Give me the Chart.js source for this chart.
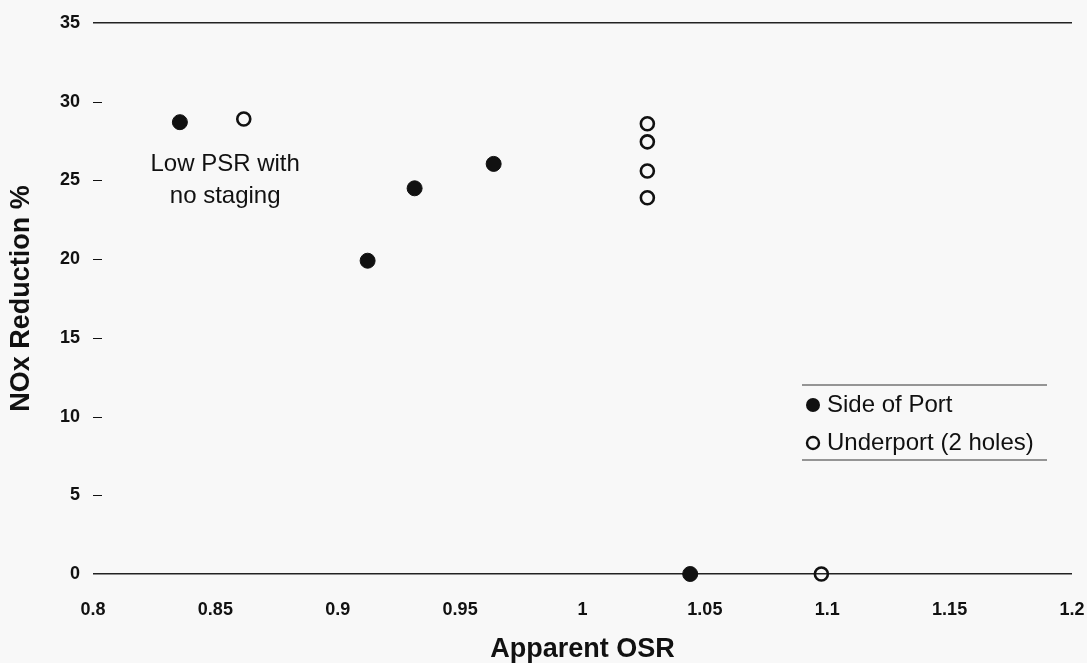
<!DOCTYPE html>
<html>
<head>
<meta charset="utf-8">
<script src="https://cdn.jsdelivr.net/npm/chart.js@4/dist/chart.umd.min.js"></script>
<style>
  html, body { margin: 0; padding: 0; background: #f8f8f8; }
  #wrap { width: 1087px; height: 663px; }
</style>
</head>
<body>
<div id="wrap"><canvas id="osr"></canvas></div>
<script>
// Apparent OSR vs NOx reduction
const sideOsr = [0.8355, 0.9122, 0.9314, 0.9637, 1.044];
const sideNox = [28.7, 19.9, 24.5, 26.05, 0];
const underOsr = [0.8616, 1.0265, 1.0265, 1.0265, 1.0265, 1.0976];
const underNox = [28.9, 28.6, 27.45, 25.6, 23.9, 0];

const xTickLabels = ['0.8', '0.85', '0.9', '0.95', '1', '1.05', '1.1', '1.15', '1.2'];
const yTickLabels = ['0', '5', '10', '15', '20', '25', '30', '35'];
const seriesNames = ['Side of Port', 'Underport (2 holes)'];
const noteLines = ['Low PSR with', 'no staging'];

const FONT = '"Liberation Sans", Arial, sans-serif';
const INK = '#111';

function toPoints(xs, ys) {
  return xs.map((x, i) => ({ x: x, y: ys[i] }));
}

// little dashes on the left edge, note text and the boxed legend
const extras = {
  id: 'extras',
  afterDraw(chart) {
    const { ctx, chartArea: a, scales } = chart;
    const xs = scales.x, ys = scales.y;
    ctx.save();

    ctx.strokeStyle = INK;
    ctx.lineWidth = 1;
    for (let v = 5; v <= 30; v += 5) {
      const py = Math.round(ys.getPixelForValue(v)) + 0.5;
      ctx.beginPath();
      ctx.moveTo(a.left, py);
      ctx.lineTo(a.left + 9, py);
      ctx.stroke();
    }

    ctx.fillStyle = INK;
    ctx.font = '24px ' + FONT;
    ctx.textAlign = 'center';
    ctx.textBaseline = 'middle';
    const nx = xs.getPixelForValue(0.854);
    const ny = ys.getPixelForValue(26.0);
    noteLines.forEach((t, i) => ctx.fillText(t, nx, ny + i * 32));

    // legend box
    const lx = a.left + 709, top = 385, bot = 460;
    ctx.strokeStyle = '#333';
    ctx.lineWidth = 1.2;
    [top, bot].forEach(y => {
      ctx.beginPath();
      ctx.moveTo(lx, y);
      ctx.lineTo(lx + 245, y);
      ctx.stroke();
    });
    const rows = [405, 443];
    chart.data.datasets.forEach((ds, i) => {
      const y = rows[i];
      ctx.beginPath();
      if (i === 0) {
        ctx.arc(lx + 11, y, 7, 0, Math.PI * 2);
        ctx.fillStyle = INK;
        ctx.fill();
      } else {
        ctx.arc(lx + 11, y, 6, 0, Math.PI * 2);
        ctx.lineWidth = 2.4;
        ctx.strokeStyle = INK;
        ctx.stroke();
      }
      ctx.fillStyle = INK;
      ctx.font = '24px ' + FONT;
      ctx.textAlign = 'left';
      ctx.fillText(ds.label, lx + 25, y);
    });
    ctx.restore();
  }
};

new Chart(document.getElementById('osr'), {
  type: 'scatter',
  data: {
    datasets: [
      {
        label: seriesNames[0],
        data: toPoints(sideOsr, sideNox),
        pointRadius: 7.5,
        pointBackgroundColor: INK,
        pointBorderColor: INK,
        pointBorderWidth: 1,
        clip: false
      },
      {
        label: seriesNames[1],
        data: toPoints(underOsr, underNox),
        pointRadius: 6.5,
        pointBackgroundColor: 'rgba(0,0,0,0)',
        pointBorderColor: INK,
        pointBorderWidth: 2.6,
        clip: false
      }
    ]
  },
  options: {
    responsive: true,
    maintainAspectRatio: false,
    animation: false,
    layout: { padding: { top: 23, right: 15, left: 0, bottom: 0 } },
    plugins: {
      legend: { display: false },
      tooltip: { enabled: false }
    },
    scales: {
      x: {
        type: 'linear',
        min: 0.8,
        max: 1.2,
        afterFit: s => {
          s.height = 89;
          s.paddingLeft = 0;
          s.paddingRight = 0;
        },
        afterBuildTicks: s => {
          s.ticks = xTickLabels.map(t => ({ value: parseFloat(t) }));
        },
        border: { display: false },
        grid: { display: false, drawTicks: false },
        ticks: {
          padding: 25,
          color: INK,
          font: { family: FONT, size: 18, weight: 'bold' },
          callback: (v, i) => xTickLabels[i]
        },
        title: {
          display: true,
          text: 'Apparent OSR',
          color: INK,
          font: { family: FONT, size: 27, weight: 'bold', lineHeight: 1 },
          padding: { top: 0, bottom: 0 }
        }
      },
      y: {
        min: 0,
        max: 35,
        afterFit: s => {
          s.width = 93;
          s.paddingTop = 0;
          s.paddingBottom = 0;
        },
        afterBuildTicks: s => {
          s.ticks = yTickLabels.map(t => ({ value: parseFloat(t) }));
        },
        border: { display: false },
        grid: {
          drawTicks: false,
          lineWidth: 1.5,
          color: c => (c.tick && (c.tick.value === 0 || c.tick.value === 35)) ? '#222' : 'rgba(0,0,0,0)'
        },
        ticks: {
          padding: 13,
          color: INK,
          font: { family: FONT, size: 18, weight: 'bold' },
          callback: (v, i) => yTickLabels[i]
        },
        title: {
          display: true,
          text: 'NOx Reduction %',
          color: INK,
          font: { family: FONT, size: 27, weight: 'bold', lineHeight: 1 },
          padding: { top: 8, bottom: 0 }
        }
      }
    }
  },
  plugins: [extras]
});
</script>
</body>
</html>
